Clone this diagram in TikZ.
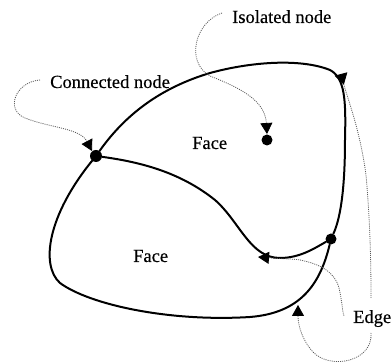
\documentclass[tikz,border=0pt]{standalone}
\usepackage{fontspec}
\setmainfont{Liberation Serif}[FakeBold=0.35]
\usetikzlibrary{arrows.meta}
\begin{document}
\begin{tikzpicture}[x=1pt,y=-1pt,
  edgeline/.style={line width=2pt,black,line cap=round},
  vertex/.style={circle,fill=black,inner sep=0pt,minimum size=12pt},
  lbl/.style={font=\fontsize{18.5}{20}\selectfont,inner sep=0pt,anchor=base west},
  pointer/.style={black!65,line width=0.8pt,dash pattern=on 1pt off 1.1pt},
  headtip/.style={-{Triangle[length=11pt,width=12pt,color=black]}},
]
\useasboundingbox (0,0) rectangle (392,363);

% vertices
\node[vertex] (L) at (96,156) {};
\node[vertex,minimum size=11pt] (R) at (331,239) {};
\node[vertex,minimum size=11pt] (I) at (267,140) {};

% labels
\node[lbl] (isoLbl)  at (232,23)  {Isolated node};
\node[lbl] (conLbl)  at (50,88)   {Connected node};
\node[lbl] (faceTop) at (192,149) {Face};
\node[lbl] (faceBot) at (133,262) {Face};
\node[lbl] (edgeLbl) at (353,323) {Edge};

% edges of the graph
\draw[edgeline] (L) .. controls (125,115) and (160,88) .. (210,73)
  .. controls (250,62) and (300,58) .. (330,70)
  .. controls (345,78) and (346,100) .. (345,140)
  .. controls (345,180) and (342,215) .. (R);
\draw[edgeline] (R) .. controls (320,285) and (300,313) .. (250,317)
  .. controls (170,322) and (90,305) .. (60,283)
  .. controls (40,265) and (48,215) .. (L);
\draw[edgeline] (L) .. controls (140,162) and (180,172) .. (215,200)
  .. controls (240,222) and (250,258) .. (280,258)
  .. controls (300,258) and (315,248) .. (R);

% free ends of the pointers
\coordinate (isoStart) at (222,13);
\coordinate (conStart) at (40,80);
\coordinate (eTop) at (341,74);
\coordinate (eTopEnd) at (371,298);
\coordinate (eMid) at (258,257);
\coordinate (eMidEnd) at (344,316);
\coordinate (eBotStart) at (371,333);
\coordinate (eBot) at (298,305);
\coordinate (isoTip) at (267,134);
\coordinate (conTip) at (92,151);

% pointers
\draw[pointer,headtip] (isoStart) .. controls (195,22) and (185,62) .. (210,76)
  .. controls (240,88) and (265,100) .. (isoTip);
\draw[pointer,headtip] (conStart) .. controls (15,82) and (5,110) .. (25,118)
  .. controls (50,128) and (80,128) .. (conTip);
\draw[pointer,{Triangle[reversed,length=11pt,width=13pt,color=black]}-]
  (eTop) .. controls (348,100) and (360,130) .. (366,175)
  .. controls (370,220) and (371,260) .. (eTopEnd);
\draw[pointer,{Triangle[length=11pt,width=12pt,color=black]}-]
  (eMid) .. controls (285,259) and (295,259) .. (300,260)
  .. controls (320,264) and (335,272) .. (339,288)
  .. controls (342,300) and (342,310) .. (eMidEnd);
\draw[pointer,headtip] (eBotStart) .. controls (373,362) and (330,370) .. (313,352)
  .. controls (302,340) and (298,325) .. (eBot);
\end{tikzpicture}
\end{document}
